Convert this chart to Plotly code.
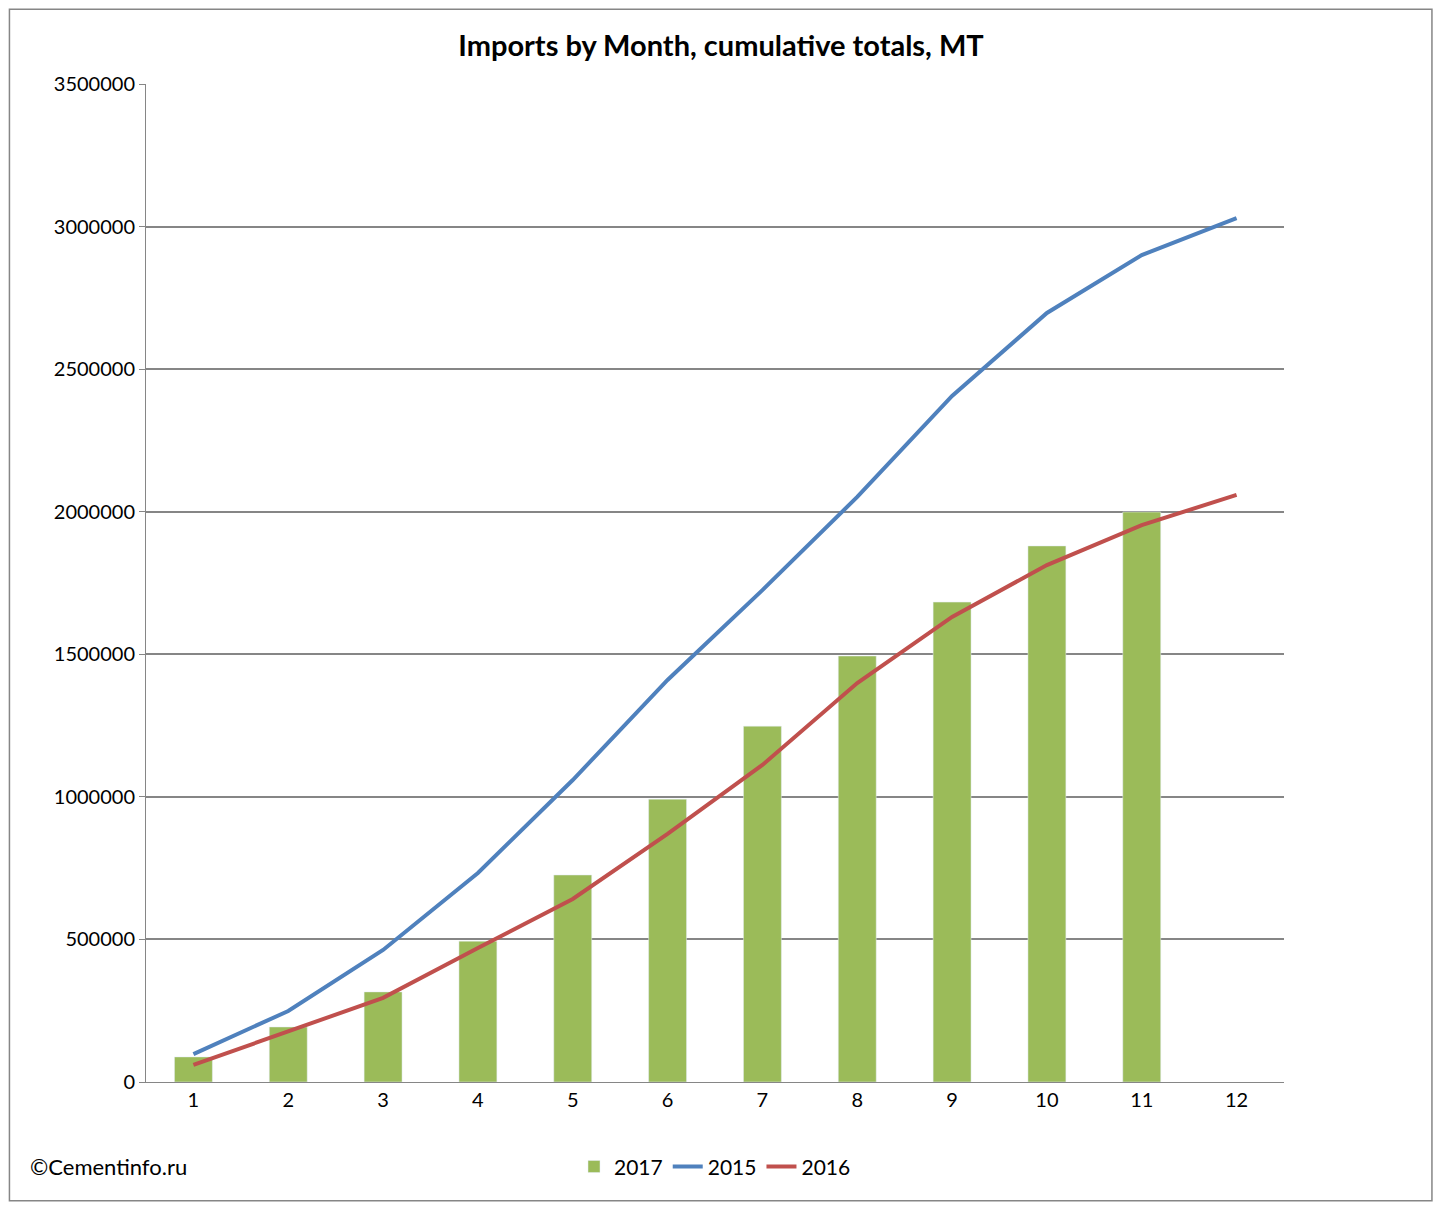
import plotly.graph_objects as go

months = list(range(1, 13))
v2017 = [88000, 193000, 316000, 494000, 726000, 992000, 1248000, 1494000, 1683000, 1880000, 1999000, None]
v2015 = [98000, 249000, 463000, 733000, 1059000, 1410000, 1725000, 2052000, 2406000, 2697000, 2900000, 3030000]
v2016 = [60000, 179000, 295000, 470000, 642000, 870000, 1112000, 1399000, 1631000, 1813000, 1953000, 2059000]

fig = go.Figure()
fig.add_bar(x=months, y=v2017, name="2017", marker_color="#9BBB59", width=0.4)
fig.add_scatter(x=months, y=v2015, name="2015", mode="lines", line=dict(color="#4F81BD", width=4))
fig.add_scatter(x=months, y=v2016, name="2016", mode="lines", line=dict(color="#C0504D", width=4))

fig.update_layout(
    width=1426, height=1194, plot_bgcolor="white", paper_bgcolor="white",
    margin=dict(l=138, r=150, t=76, b=120),
    font=dict(family="Lato, Open Sans, sans-serif", size=20, color="black"),
    title=dict(text="<b>Imports by Month, cumulative totals, MT</b>", x=0.5, xanchor="center",
               y=0.968, yanchor="middle", font=dict(size=29)),
    legend=dict(orientation="h", x=0.5, xanchor="center", y=-0.085, yanchor="middle",
                font=dict(size=21)),
    xaxis=dict(tickmode="array", tickvals=months, range=[0.5, 12.5], showline=True,
               linecolor="#868686", ticks="outside", ticklen=0, showgrid=False),
    yaxis=dict(range=[0, 3500000], dtick=500000, tickformat="d", showgrid=True,
               gridcolor="#868686", gridwidth=1.5, showline=True, linecolor="#868686",
               ticks="outside", ticklen=6, tickcolor="#868686", zeroline=False),
    annotations=[dict(text="©Cementinfo.ru", xref="paper", yref="paper", x=-0.104, y=-0.085,
                      xanchor="left", yanchor="middle", showarrow=False, font=dict(size=22))],
    shapes=[dict(type="rect", xref="paper", yref="paper", x0=-0.12, x1=1.13, y0=-0.119, y1=1.075,
                 line=dict(color="#868686", width=1.5))],
)
fig.write_html("out.html")
